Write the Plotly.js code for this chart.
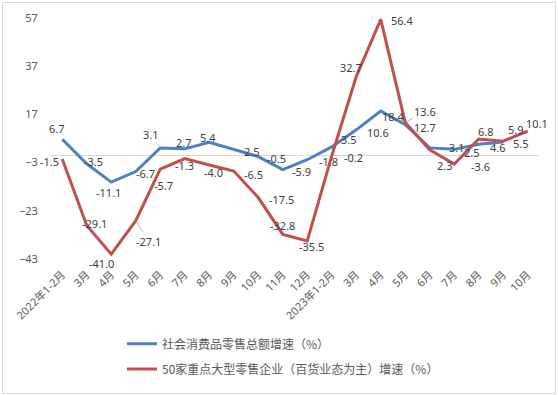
<!DOCTYPE html>
<html>
<head>
<meta charset="utf-8">
<script src="https://cdn.plot.ly/plotly-3.0.1.min.js"></script>
<style>
  html, body { margin: 0; padding: 0; background: #fff; }
  #wrap { position: relative; width: 558px; height: 395px; }
  #chart { width: 558px; height: 395px; }
  #frame { position: absolute; left: 2px; top: 2px; width: 554px; height: 392px;
           box-sizing: border-box; border: 1px solid #d9d9d9; pointer-events: none; }
</style>
</head>
<body>
<div id="wrap"><div id="chart"></div><div id="frame"></div></div>
<script>
// ---- data ----
const categories = ['2022年1-2月','3月','4月','5月','6月','7月','8月','9月','10月','11月','12月',
                    '2023年1-2月','3月','4月','5月','6月','7月','8月','9月','10月'];
const retailName = '社会消费品零售总额增速（%）';
const retailGrowth = [6.7, -3.5, -11.1, -6.7, 3.1, 2.7, 5.4, 2.5, -0.5, -5.9, -1.8,
                      3.5, 10.6, 18.4, 12.7, 3.1, 2.5, 4.6, 5.5, null];
const storesName = '50家重点大型零售企业（百货业态为主）增速（%）';
const storesGrowth = [-1.5, -29.1, -41.0, -27.1, -5.7, -1.3, -4.0, -6.5, -17.5, -32.8, -35.5,
                      -0.2, 32.7, 56.4, 13.6, 2.3, -3.6, 6.8, 5.9, 10.1];
const yTicks = [-43, -23, -3, 17, 37, 57];

// ---- label placement (pixel offsets from the point; dy positive = down) ----
const retailLabelDx = [-5, 7, -3, 10, -9, -1, -1, 18, 18, 19, 21, 17, 22, 13, 20, 27, 18, 19, 18, 0];
const retailLabelDy = [-11, -2, 10, 2, -13, -6, -5, 2, 2, 2, 2, -7, 3, 5, 2.5, 0, 3, 3, 1, 0];
const retailLeader  = [4];
const storesLabelDx = [-13, 8, -10, 13, 3, 0, 4, 20, 23, 0, 4, 22, -5, 22, 20, 15, 26, 7, 13, 9];
const storesLabelDy = [3, -2, 9, 21, 16, 7, 7, 3, 2, -9, 6, 2, -9, 1, -11, 16, 2, -7, -12, -8];
const storesLeader  = [3, 14];

const xIdx = categories.map((c, i) => i);
const BLUE = '#4F81BD', RED = '#C0504D';
const labelFont = {family: 'Noto Sans, Noto Sans CJK SC, sans-serif', size: 11, color: '#404040'};

function labels(vals, dxs, dys, leaders) {
  const out = [];
  vals.forEach((v, i) => {
    if (v === null) return;
    const base = {x: i, y: v, xref: 'x', yref: 'y', text: v.toFixed(1), font: labelFont};
    if (leaders.includes(i)) {
      out.push(Object.assign(base, {showarrow: true, arrowhead: 0, arrowwidth: 0.8,
        arrowcolor: '#a6a6a6', ax: dxs[i], ay: dys[i], standoff: 2}));
    } else {
      out.push(Object.assign(base, {showarrow: false, xshift: dxs[i], yshift: -dys[i]}));
    }
  });
  return out;
}

const traces = [
  {x: xIdx, y: retailGrowth, name: retailName, type: 'scatter', mode: 'lines',
   line: {color: BLUE, width: 3}, connectgaps: false, legend: 'legend'},
  {x: xIdx, y: storesGrowth, name: storesName, type: 'scatter', mode: 'lines',
   line: {color: RED, width: 3}, legend: 'legend2'}
];

const tickFont = {family: 'Noto Sans, Noto Sans CJK SC, sans-serif', size: 11, color: '#595959'};
const legFont = {family: 'Noto Sans CJK SC, sans-serif', size: 12, color: '#595959'};

const layout = {
  width: 558, height: 395,
  margin: {l: 50, r: 18, t: 18, b: 127},
  paper_bgcolor: '#fff', plot_bgcolor: '#fff',
  showlegend: true,
  xaxis: {
    range: [-0.5, categories.length - 0.5],
    tickmode: 'array', tickvals: xIdx, ticktext: categories,
    tickangle: -45, tickfont: tickFont, showgrid: false, zeroline: false,
    showline: false, ticks: 'outside', ticklen: 4, tickcolor: 'rgba(0,0,0,0)'
  },
  yaxis: {
    range: [-43, 57], tickmode: 'array', tickvals: yTicks,
    tickfont: tickFont, showgrid: false, showline: false,
    zeroline: true, zerolinecolor: '#d9d9d9', zerolinewidth: 1,
    ticks: 'outside', ticklen: 9, tickcolor: 'rgba(0,0,0,0)'
  },
  legend: {x: 0.147, xanchor: 'left', y: -0.352, yanchor: 'middle',
           font: legFont, bgcolor: 'rgba(0,0,0,0)', itemwidth: 30},
  legend2: {x: 0.147, xanchor: 'left', y: -0.456, yanchor: 'middle',
           font: legFont, bgcolor: 'rgba(0,0,0,0)', itemwidth: 30},
  annotations: labels(retailGrowth, retailLabelDx, retailLabelDy, retailLeader)
    .concat(labels(storesGrowth, storesLabelDx, storesLabelDy, storesLeader))
};

Plotly.newPlot('chart', traces, layout, {displayModeBar: false, staticPlot: true});
</script>
</body>
</html>
